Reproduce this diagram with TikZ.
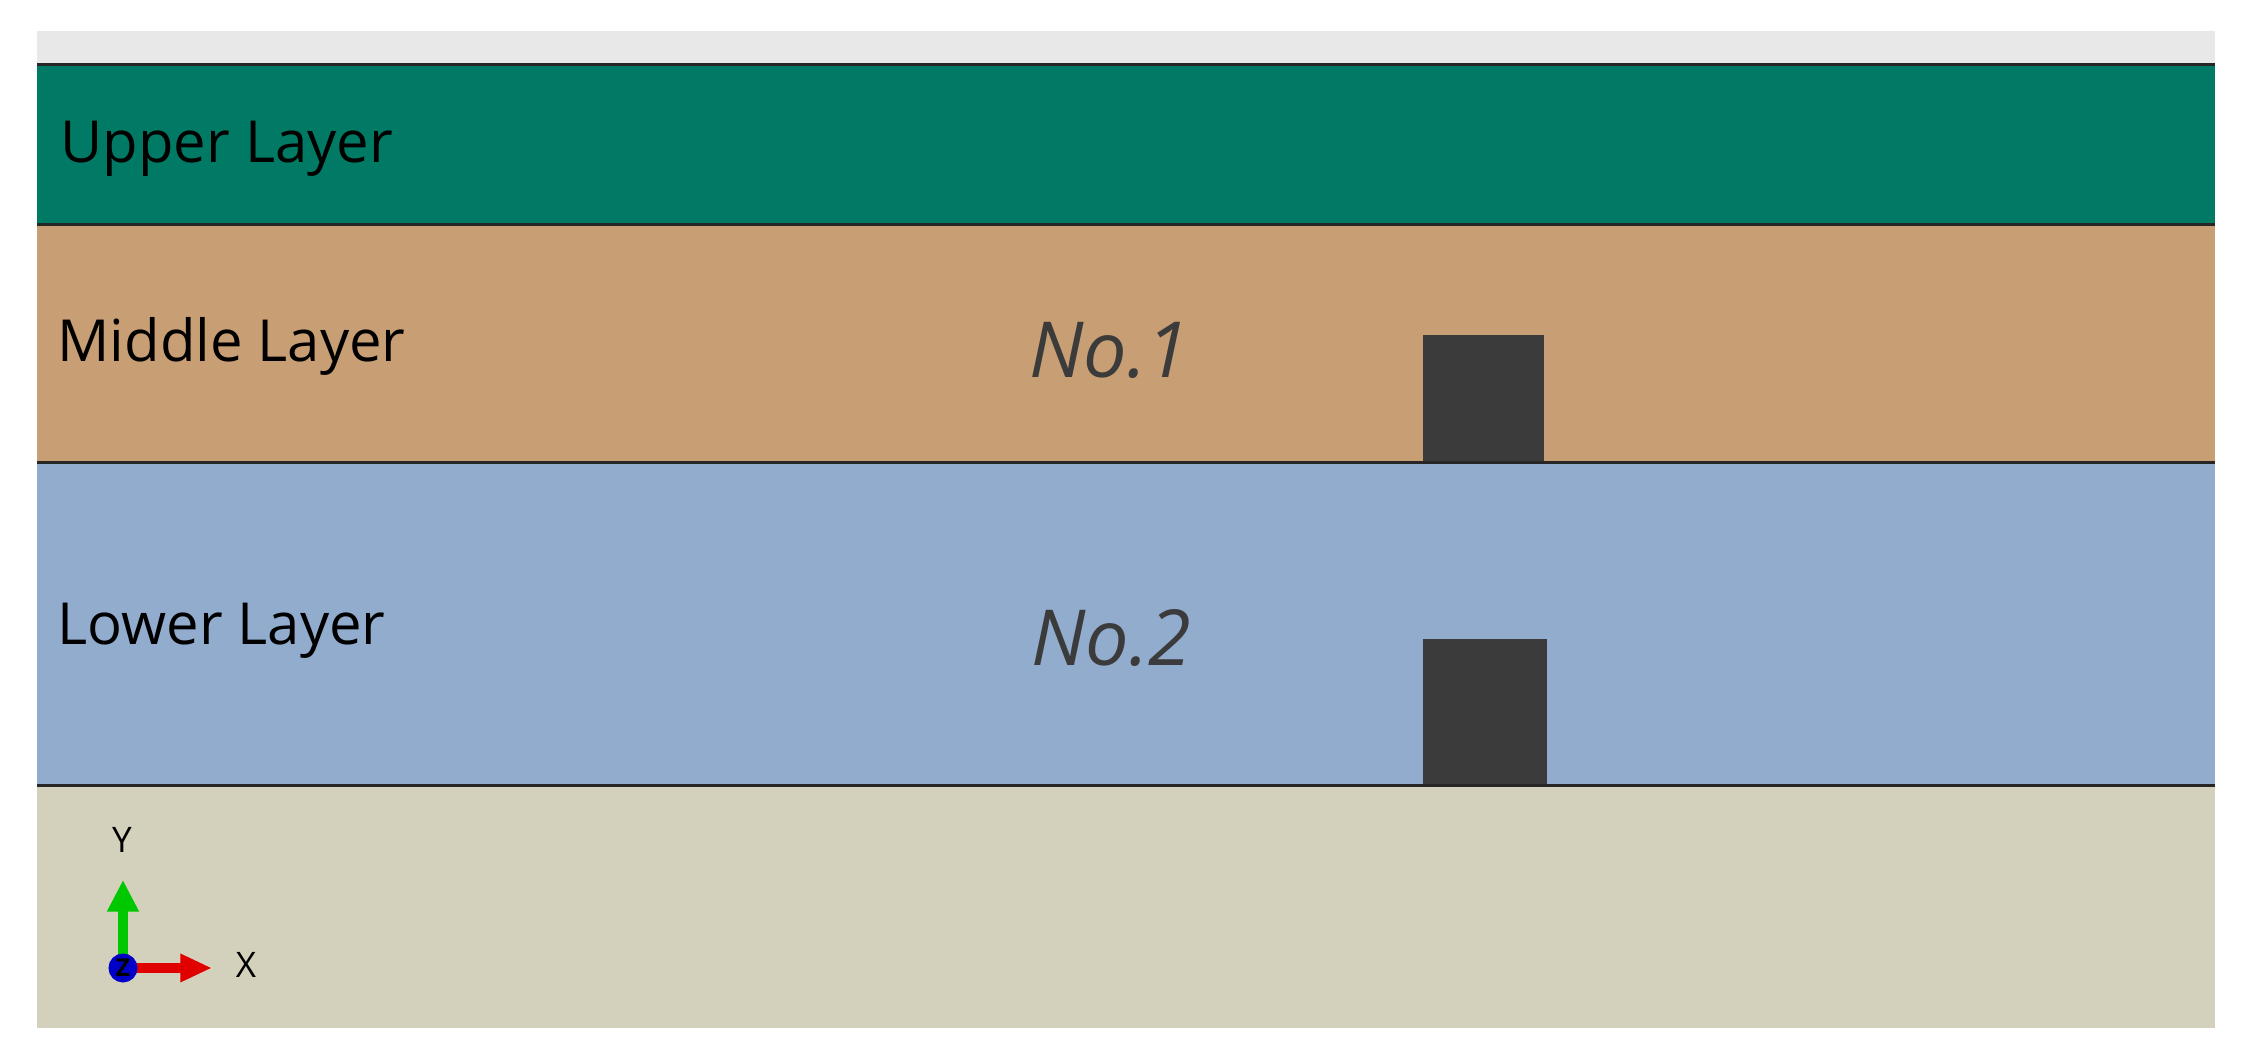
\documentclass[tikz,border=0pt]{standalone}
\usepackage{fontspec}
\setmainfont{Open Sans}
\usetikzlibrary{arrows.meta}
\definecolor{upperc}{RGB}{0,122,100}
\definecolor{middlec}{RGB}{200,158,116}
\definecolor{lowerc}{RGB}{146,172,206}
\definecolor{basec}{RGB}{211,209,188}
\definecolor{topc}{RGB}{232,232,232}
\definecolor{blockc}{RGB}{59,59,59}
\definecolor{axgreen}{RGB}{0,200,0}
\definecolor{axred}{RGB}{225,0,0}
\definecolor{axblue}{RGB}{0,0,200}
\begin{document}
\begin{tikzpicture}[>=stealth, line width=0.85pt,
	layertext/.style={anchor=base west, inner sep=0pt, font=\fontsize{16.5}{18}\selectfont},
	notext/.style={anchor=base west, inner sep=0pt, text=blockc, font=\fontsize{22}{24}\selectfont\itshape},
	axtext/.style={inner sep=0pt, font=\fontsize{10}{12}\selectfont}]
	\useasboundingbox (0,0) rectangle (22.48,10.52);
	% layers
	\fill[topc] (0.37,9.87) rectangle (22.15,10.21);
	\fill[upperc] (0.37,8.27) rectangle (22.15,9.87);
	\fill[middlec] (0.37,5.89) rectangle (22.15,8.27);
	\fill[lowerc] (0.37,2.66) rectangle (22.15,5.89);
	\fill[basec] (0.37,0.24) rectangle (22.15,2.66);
	% blocks
	\fill[blockc] (14.23,5.89) rectangle (15.44,7.17);
	\fill[blockc] (14.23,2.66) rectangle (15.47,4.13);
	\foreach \y in {9.87,8.27,5.89,2.66}
	{
		\draw[black!85] (0.37,\y)--(22.15,\y);
	}
	\node[layertext] (upper) at (0.59,8.89) {Upper Layer};
	\node[layertext] (middle) at (0.56,6.90) {Middle Layer};
	\node[layertext] (lower) at (0.56,4.07) {Lower Layer};
	\node[notext] (no1) at (10.28,6.74) {No.1};
	\node[notext] (no2) at (10.30,3.86) {No.2};
	% axes
	\coordinate (o) at (1.23,0.84);
	\coordinate (ytip) at (1.23,1.72);
	\coordinate (xtip) at (2.12,0.84);
	\draw[axgreen, line width=3pt, -{Triangle[length=9pt,width=8.5pt]}] (o)--(ytip);
	\draw[axred, line width=3pt, -{Triangle[length=9pt,width=7.5pt]}] (o)--(xtip);
	\draw[axblue, fill=axblue] (o) circle (0.13);
	\node[axtext, font=\fontsize{7}{8}\selectfont\bfseries] at (o) {Z};
	\node[axtext] (ylab) at (1.22,2.12) {Y};
	\node[axtext] (xlab) at (2.46,0.87) {X};
\end{tikzpicture}
\end{document}
